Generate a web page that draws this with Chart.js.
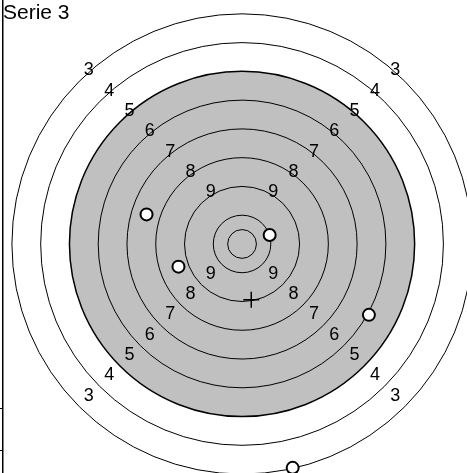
<!DOCTYPE html>
<html>
<head>
<meta charset="utf-8">
<script src="https://cdn.jsdelivr.net/npm/chart.js@4/dist/chart.umd.min.js"></script>
<style>
  html, body { margin: 0; padding: 0; background: #fff; }
  #wrap { width: 467px; height: 473px; position: relative; }
</style>
</head>
<body>
<div id="wrap"><canvas id="target"></canvas></div>
<script>
// Series title
const seriesName = 'Serie 3';

// Ring scores, drawn from the outside in (radius in ring widths = 11 - score)
const ringScores = [3, 4, 5, 6, 7, 8, 9, 10];
const innerTenRadius = 0.5;
const grayFromScore = 5;

// Ring numbers that get a label
const labelScores = [3, 4, 5, 6, 7, 8, 9];

// Shots, in ring widths from the centre
const shotX = [-3.32, 0.96, -2.21, 4.41, 1.76];
const shotY = [1.03, 0.31, -0.79, -2.47, -7.80];

// Y axis tick marks (no labels shown)
const yTicks = [-5.75, -7.18];

// Mean point of impact
const meanX = shotX.reduce((a, b) => a + b, 0) / shotX.length;
const meanY = shotY.reduce((a, b) => a + b, 0) / shotY.length;

const targetPlugin = {
    id: 'targetRings',
    beforeDatasetsDraw(chart) {
        const ctx = chart.ctx;
        const xs = chart.scales.x;
        const ys = chart.scales.y;
        const cx = xs.getPixelForValue(0);
        const cy = ys.getPixelForValue(0);
        const unit = xs.getPixelForValue(1) - cx;

        ctx.save();
        // gray black-zone
        const grayR = (11 - grayFromScore) * unit;
        ctx.beginPath();
        ctx.arc(cx, cy, grayR, 0, Math.PI * 2);
        ctx.fillStyle = '#c0c0c0';
        ctx.fill();

        ctx.strokeStyle = '#000';
        ringScores.forEach(s => {
            ctx.beginPath();
            ctx.arc(cx, cy, (11 - s) * unit, 0, Math.PI * 2);
            ctx.lineWidth = s === grayFromScore ? 1.5 : 1;
            ctx.stroke();
        });
        ctx.beginPath();
        ctx.arc(cx, cy, innerTenRadius * unit, 0, Math.PI * 2);
        ctx.lineWidth = 1;
        ctx.stroke();

        // ring numbers on the four diagonals
        ctx.fillStyle = '#000';
        ctx.font = '18px "Liberation Sans", Arial, sans-serif';
        ctx.textAlign = 'center';
        ctx.textBaseline = 'middle';
        const d = Math.SQRT1_2;
        labelScores.forEach(s => {
            const r = (11 - s) * unit;
            [[-1, -1], [1, -1], [-1, 1], [1, 1]].forEach(([sx, sy]) => {
                const px = cx + sx * r * d - sx * 9.5;
                const py = cy + sy * r * d - 11;
                ctx.fillText(String(s), px, py);
            });
        });
        ctx.restore();
    },
    afterDraw(chart) {
        const ctx = chart.ctx;
        ctx.save();
        ctx.fillStyle = '#000';
        ctx.font = '21px "Liberation Sans", Arial, sans-serif';
        ctx.textAlign = 'left';
        ctx.textBaseline = 'top';
        ctx.fillText(seriesName, 3, 3);
        ctx.restore();
    }
};

new Chart(document.getElementById('target'), {
    type: 'scatter',
    data: {
        datasets: [
            {
                label: 'Shots',
                data: shotX.map((x, i) => ({ x: x, y: shotY[i] })),
                pointRadius: 6,
                pointBorderWidth: 2,
                pointBackgroundColor: '#fff',
                pointBorderColor: '#000',
                clip: false
            },
            {
                label: 'Mean',
                data: [{ x: meanX, y: meanY }],
                pointStyle: 'cross',
                pointRadius: 8,
                pointBorderWidth: 1.5,
                pointBorderColor: '#000'
            }
        ]
    },
    options: {
        responsive: true,
        maintainAspectRatio: false,
        animation: false,
        layout: { padding: 0, autoPadding: false },
        plugins: {
            legend: { display: false },
            tooltip: { enabled: false },
            title: { display: false }
        },
        scales: {
            x: {
                type: 'linear',
                display: false,
                min: -8.31,
                max: 7.82
            },
            y: {
                type: 'linear',
                position: 'left',
                min: -7.98,
                max: 8.50,
                afterBuildTicks: (scale) => {
                    scale.ticks = yTicks.map(v => ({ value: v }));
                },
                ticks: { display: false, padding: 0 },
                grid: {
                    drawOnChartArea: false,
                    drawTicks: true,
                    tickLength: 3,
                    color: '#000'
                },
                border: { display: true, color: '#000', width: 1.5 }
            }
        }
    },
    plugins: [targetPlugin]
});
</script>
</body>
</html>
